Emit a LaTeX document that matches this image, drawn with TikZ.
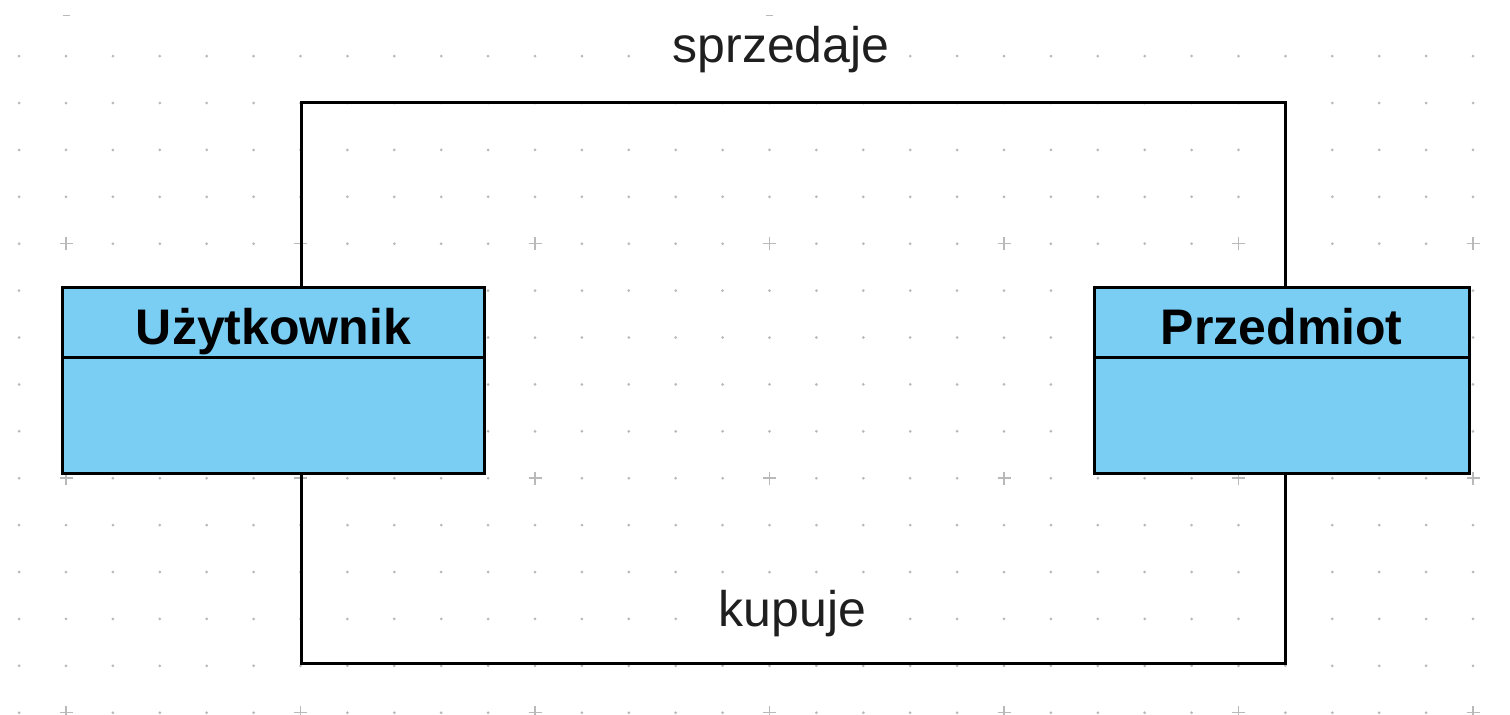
\documentclass[tikz,border=0pt]{standalone}
\usepackage{fontspec}
\setmainfont{Liberation Sans}
\definecolor{classfill}{RGB}{122,206,244}
\definecolor{gridgray}{RGB}{185,185,185}
\begin{document}
\begin{tikzpicture}[x=0.5pt,y=-0.5pt,
  classbox/.style={draw=black, fill=classfill, line width=1.5pt, outer sep=0pt, inner sep=0pt, rectangle},
  classname/.style={font=\fontsize{25}{30}\selectfont\bfseries, anchor=base, inner sep=0pt},
  assoc/.style={draw=black, line width=1.5pt},
  assoclabel/.style={font=\fontsize{25}{30}\selectfont, text=black!88, anchor=base, fill=white, inner sep=2pt},
  griddot/.style={fill=gridgray},
  gridplus/.style={draw=gridgray, line width=0.75pt}]
\useasboundingbox (0,0) rectangle (1510,714);
\fill[white] (0,0) rectangle (1510,714);
% grid
\foreach \j in {1,...,15}{
  \foreach \i in {0,...,31}{
    \pgfmathsetmacro{\gx}{19.1+46.9*\i}
    \pgfmathsetmacro{\gy}{9.2+46.9*\j}
    \pgfmathtruncatemacro{\pi}{mod(\i-1,5)}
    \pgfmathtruncatemacro{\pj}{mod(\j,5)}
    \ifnum\pi=0 \ifnum\pj=0
      \draw[gridplus] (\gx-6.5,\gy) -- (\gx+6.5,\gy) (\gx,\gy-6.5) -- (\gx,\gy+6.5);
    \else
      \fill[griddot] (\gx,\gy) circle (0.75pt);
    \fi\else
      \fill[griddot] (\gx,\gy) circle (0.75pt);
    \fi
  }
}
\foreach \i in {1,16}{
  \pgfmathsetmacro{\gx}{19.1+46.9*\i}
  \draw[gridplus] (\gx-3.5,15.7) -- (\gx+3.5,15.7);
}
% classes
\node[classbox, minimum width=210.8pt, minimum height=93pt] (u) at (273.5,380.3) {};
\draw[assoc] ([yshift=-35pt]u.north west) -- ([yshift=-35pt]u.north east);
\node[classname] (ut) at ([yshift=-28.35pt]u.north) {Użytkownik};
\node[classbox, minimum width=187.7pt, minimum height=93pt] (p) at (1281.7,380.3) {};
\draw[assoc] ([yshift=-35pt]p.north west) -- ([yshift=-35pt]p.north east);
\node[classname] (pt) at ([yshift=-28.35pt]p.north) {Przedmiot};
% associations
\coordinate (s1) at (301,102);
\coordinate (s2) at (1285,102);
\coordinate (k1) at (301,663);
\coordinate (k2) at (1285,663);
\draw[assoc] (u.north -| s1) -- (s1) -- (s2) -- (p.north -| s2);
\draw[assoc] (u.south -| k1) -- (k1) -- (k2) -- (p.south -| k2);
\node[assoclabel] (ls) at (781,62) {sprzedaje};
\node[assoclabel] (lk) at (792.5,626.7) {kupuje};
\end{tikzpicture}
\end{document}
